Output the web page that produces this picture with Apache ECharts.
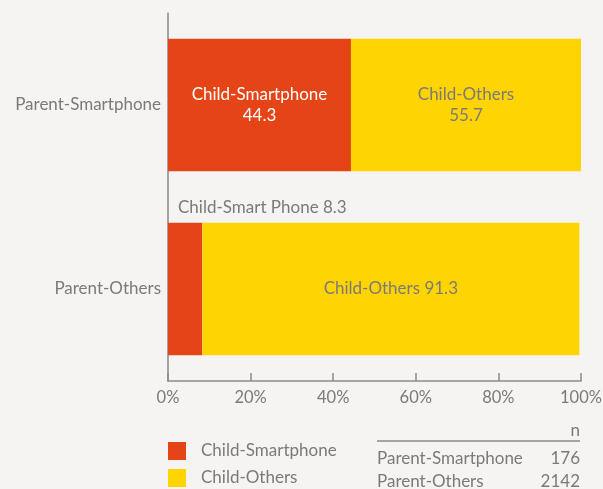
<!DOCTYPE html>
<html>
<head>
<meta charset="utf-8">
<style>
  html, body { margin: 0; padding: 0; background: #f5f4f2; }
  #chart { width: 603px; height: 489px; }
</style>
<script src="https://cdn.jsdelivr.net/npm/echarts@6/dist/echarts.min.js"></script>
</head>
<body>
<div id="chart"></div>
<script>
// Parent device groups (rows) and child device shares (%)
const parentGroups = ['Parent-Smartphone', 'Parent-Others'];
const childSmartphone = [44.3, 8.3];
const childOthers = [55.7, 91.3];
const sampleSizes = [176, 2142];
const xTicks = [0, 20, 40, 60, 80, 100];

const FONT = 'Lato';
const FS = 17;
const GRAY = '#7a7a7a';
const RED = '#e54416';
const YELLOW = '#ffd400';

const chart = echarts.init(document.getElementById('chart'), null, { renderer: 'canvas' });

const option = {
  backgroundColor: '#f5f4f2',
  animation: false,
  textStyle: { fontFamily: FONT },
  grid: { left: 168, top: 13, width: 413, height: 368, containLabel: false, outerBoundsMode: 'none' },
  xAxis: {
    type: 'value',
    min: xTicks[0],
    max: xTicks[xTicks.length - 1],
    interval: 20,
    axisLine: { show: true, lineStyle: { color: '#8a8a8a', width: 1.5 } },
    axisTick: { show: true, inside: true, length: 8, lineStyle: { color: '#8a8a8a', width: 1.5 } },
    splitLine: { show: false },
    axisLabel: { color: GRAY, fontSize: 16.5, fontFamily: FONT, margin: 8, formatter: v => v + '%' }
  },
  yAxis: {
    type: 'category',
    data: parentGroups,
    inverse: true,
    axisLine: { show: true, lineStyle: { color: '#8a8a8a', width: 1.5 } },
    axisTick: { show: false },
    axisLabel: { color: GRAY, fontSize: FS, fontFamily: FONT, margin: 7 }
  },
  legend: {
    left: 168,
    top: 442,
    orient: 'vertical',
    padding: 0,
    icon: 'rect',
    itemWidth: 18,
    itemHeight: 18,
    itemGap: 9,
    itemStyle: { borderWidth: 0 },
    textStyle: { color: GRAY, fontSize: FS, fontFamily: FONT, padding: [0, 0, 0, 10] },
    data: ['Child-Smartphone', 'Child-Others']
  },
  series: [
    {
      name: 'Child-Smartphone',
      type: 'bar',
      stack: 'share',
      barWidth: '72%',
      itemStyle: { color: RED },
      data: childSmartphone.map((v, i) => ({
        value: v,
        label: i === 0
          ? { show: true, position: 'inside', color: '#ffffff', fontSize: FS, lineHeight: 21,
              formatter: p => 'Child-Smartphone\n' + p.value }
          : { show: true, position: [10, -24], align: 'left', verticalAlign: 'top', color: GRAY, fontSize: FS,
              formatter: p => 'Child-Smart Phone ' + p.value }
      }))
    },
    {
      name: 'Child-Others',
      type: 'bar',
      stack: 'share',
      barWidth: '72%',
      itemStyle: { color: YELLOW },
      label: { show: true, position: 'inside', color: GRAY, fontSize: FS, lineHeight: 21 },
      data: childOthers.map((v, i) => ({
        value: v,
        label: {
          formatter: p => i === 0 ? 'Child-Others\n' + p.value : 'Child-Others ' + p.value
        }
      }))
    }
  ],
  graphic: [
    { type: 'text', x: 580, y: 431, style: { text: 'n', fill: GRAY, font: FS + 'px ' + FONT, align: 'right', verticalAlign: 'middle' } },
    { type: 'line', shape: { x1: 377, y1: 441, x2: 580, y2: 441 }, style: { stroke: '#8a8a8a', lineWidth: 1.5 } },
    ...parentGroups.flatMap((g, i) => [
      { type: 'text', x: 377, y: 459 + i * 23, style: { text: g, fill: GRAY, font: FS + 'px ' + FONT, align: 'left', verticalAlign: 'middle' } },
      { type: 'text', x: 580, y: 459 + i * 23, style: { text: String(sampleSizes[i]), fill: GRAY, font: FS + 'px ' + FONT, align: 'right', verticalAlign: 'middle' } }
    ])
  ]
};

chart.setOption(option);
</script>
</body>
</html>
